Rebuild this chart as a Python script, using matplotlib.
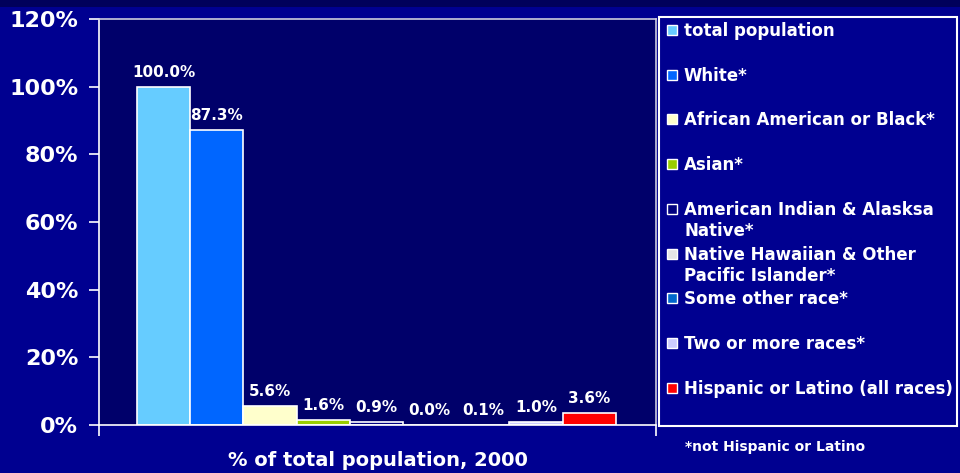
import matplotlib
matplotlib.use("Agg")
import matplotlib.pyplot as plt
from matplotlib.patches import Rectangle

# data
groups = ["total population", "White*", "African American or Black*", "Asian*",
          "American Indian & Alasksa\nNative*", "Native Hawaiian & Other\nPacific Islander*",
          "Some other race*", "Two or more races*", "Hispanic or Latino (all races)"]
pct = [100.0, 87.3, 5.6, 1.6, 0.9, 0.0, 0.1, 1.0, 3.6]
colors = ["#66CCFF", "#0066FF", "#FFFFCC", "#99CC00", "#000080",
          "#E6E6E6", "#0066CC", "#CCCCFF", "#FF0000"]
yticks = [0, 20, 40, 60, 80, 100, 120]

W, H = 960, 473
fig = plt.figure(figsize=(9.6, 4.73), dpi=100)
fig.patch.set_facecolor("#000090")
# darker strip across the top of the slide
fig.patches.append(Rectangle((0, 1 - 7 / H), 1, 7 / H, transform=fig.transFigure,
                             facecolor="#00005A", edgecolor="none", zorder=0))

ax = fig.add_axes([99 / W, 48 / H, 557 / W, 406 / H])
ax.set_facecolor("#00006A")

x = list(range(len(pct)))
bars = ax.bar(x, pct, width=1.0, color=colors, edgecolor="white", linewidth=1.2)
ax.bar_label(bars, fmt="%.1f%%", padding=5, color="white", fontsize=11, fontweight="bold")

ax.set_xlim(-1.214, 9.256)
ax.set_ylim(0, 120)
ax.set_yticks(yticks)
ax.set_yticklabels([f"{t}%" for t in yticks], color="white", fontsize=16, fontweight="bold")
ax.tick_params(axis="y", colors="white", length=7, width=1.2, pad=8)
ax.set_xticks([-1.214, 9.256])
ax.set_xticklabels([])
ax.tick_params(axis="x", colors="white", length=8, width=1.2)
for s in ax.spines.values():
    s.set_color("white")
    s.set_linewidth(1.2)
ax.spines["top"].set_color("#CCCCDD")
ax.spines["right"].set_color("#CCCCDD")

ax.set_xlabel("% of total population, 2000", color="white", fontsize=14,
              fontweight="bold", labelpad=7)

# legend box drawn by hand so markers line up with first text line
fig.patches.append(Rectangle((659 / W, 1 - 426 / H), 298 / W, 409 / H, transform=fig.transFigure,
                             facecolor="#000090", edgecolor="white", linewidth=1.5, zorder=1))
for i, (lab, c) in enumerate(zip(groups, colors)):
    yc = 30 + i * 44.7
    fig.patches.append(Rectangle((667 / W, 1 - (yc + 5) / H), 10 / W, 10 / H,
                                 transform=fig.transFigure, facecolor=c,
                                 edgecolor="white", linewidth=1.0, zorder=2))
    fig.text(684 / W, 1 - (yc - 8) / H, lab, color="white", fontsize=12,
             fontweight="bold", va="top", ha="left", linespacing=1.25, zorder=3)

fig.text(685 / W, 1 - 447 / H, "*not Hispanic or Latino", color="white", fontsize=10,
         fontweight="bold", va="center", ha="left")

fig.savefig("out.png", dpi=100, facecolor=fig.get_facecolor())
